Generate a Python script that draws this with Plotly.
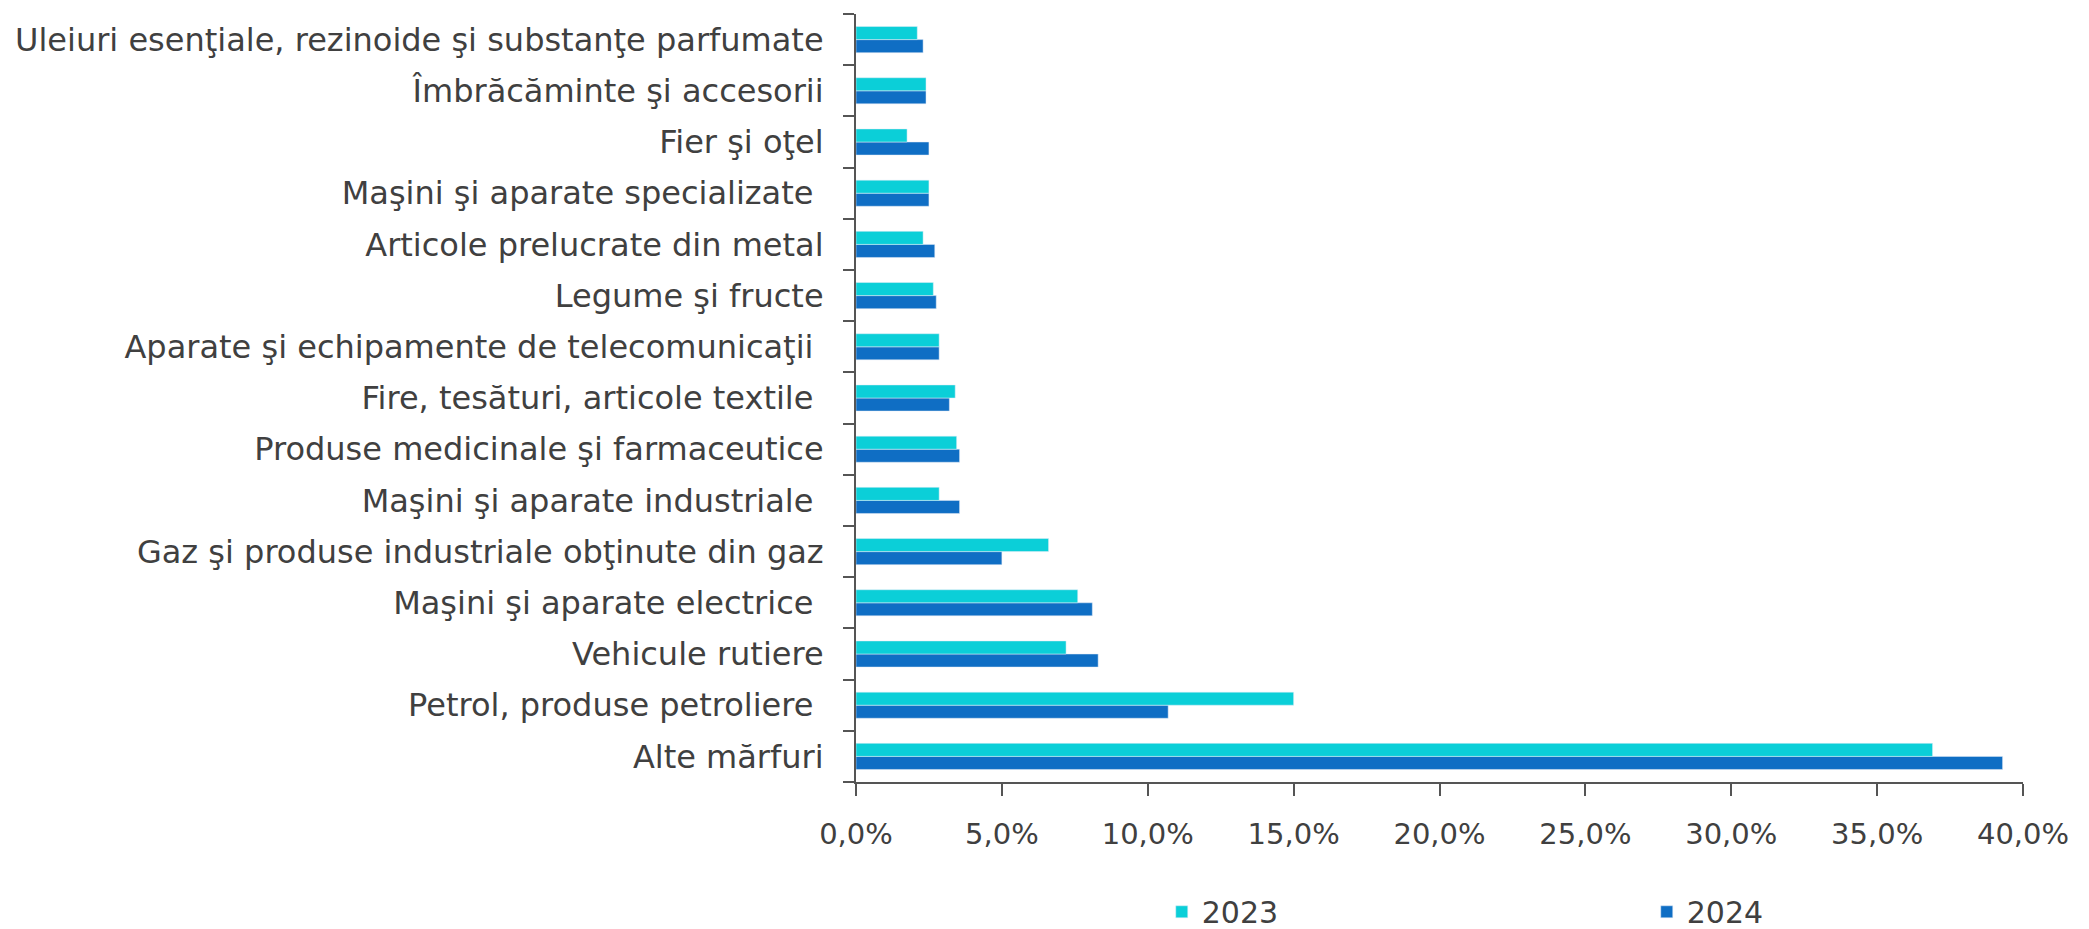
import plotly.graph_objects as go

# categorii, de jos in sus (Alte marfuri jos)
categorii = [
    "Alte mărfuri",
    "Petrol, produse petroliere\u00a0",
    "Vehicule rutiere",
    "Maşini şi aparate electrice\u00a0",
    "Gaz şi produse industriale obţinute din gaz",
    "Maşini şi aparate industriale\u00a0",
    "Produse medicinale şi farmaceutice",
    "Fire, tesături, articole textile\u00a0",
    "Aparate şi echipamente de telecomunicaţii\u00a0",
    "Legume şi fructe",
    "Articole prelucrate din metal",
    "Maşini şi aparate specializate\u00a0",
    "Fier şi oţel",
    "Îmbrăcăminte şi accesorii",
    "Uleiuri esenţiale, rezinoide şi substanţe parfumate",
]

val_2023 = [36.9, 15.0, 7.2, 7.6, 6.6, 2.85, 3.45, 3.4, 2.85, 2.65, 2.3, 2.5, 1.75, 2.4, 2.1]
val_2024 = [39.3, 10.7, 8.3, 8.1, 5.0, 3.55, 3.55, 3.2, 2.85, 2.75, 2.7, 2.5, 2.5, 2.4, 2.3]

x_ticks = [0, 5, 10, 15, 20, 25, 30, 35, 40]
x_labels = ["0,0%", "5,0%", "10,0%", "15,0%", "20,0%", "25,0%", "30,0%", "35,0%", "40,0%"]

culoare_2023 = "#0bcfd8"
culoare_2024 = "#0f6ec4"
text_color = "#404040"
font_family = "DejaVu Sans, sans-serif"

fig = go.Figure()

# 2024 primul -> apare sub 2023 in fiecare grup
fig.add_trace(go.Bar(
    y=categorii, x=val_2024, orientation="h", name="2024",
    marker={"color": culoare_2024}, legendrank=2,
))
fig.add_trace(go.Bar(
    y=categorii, x=val_2023, orientation="h", name="2023",
    marker={"color": culoare_2023}, legendrank=1,
))

fig.update_layout(
    width=2089,
    height=929,
    barmode="group",
    bargap=0.49,
    bargroupgap=0,
    plot_bgcolor="white",
    paper_bgcolor="white",
    font={"family": font_family, "size": 32, "color": text_color},
    # pagina are o margine de 8px in jurul figurii
    margin={"l": 848, "r": 74, "t": 6, "b": 155, "autoexpand": False},
    xaxis={
        "range": [0, 40],
        "tickvals": x_ticks,
        "ticktext": x_labels,
        "showgrid": False,
        "zeroline": False,
        "showline": True,
        "linecolor": "#555555",
        "linewidth": 2,
        "ticks": "outside",
        "ticklen": 12,
        "tickwidth": 2,
        "tickcolor": "#555555",
        "ticklabelstandoff": 13,
        "tickfont": {"size": 29},
        "fixedrange": True,
    },
    yaxis={
        "type": "category",
        "categoryorder": "array",
        "categoryarray": categorii,
        "range": [-0.5, len(categorii) - 0.5],
        "showgrid": False,
        "showline": True,
        "linecolor": "#555555",
        "linewidth": 2,
        "ticks": "outside",
        "ticklen": 11,
        "tickwidth": 2,
        "tickcolor": "#555555",
        "tickson": "boundaries",
        "ticklabelstandoff": 24,
        "fixedrange": True,
    },
    legend={
        "orientation": "h",
        "x": 0.262,
        "xanchor": "left",
        "y": -0.169,
        "yanchor": "middle",
        "entrywidth": 440,
        "font": {"size": 30, "color": text_color},
        "bgcolor": "rgba(0,0,0,0)",
    },
)

fig.write_html("out.html")
